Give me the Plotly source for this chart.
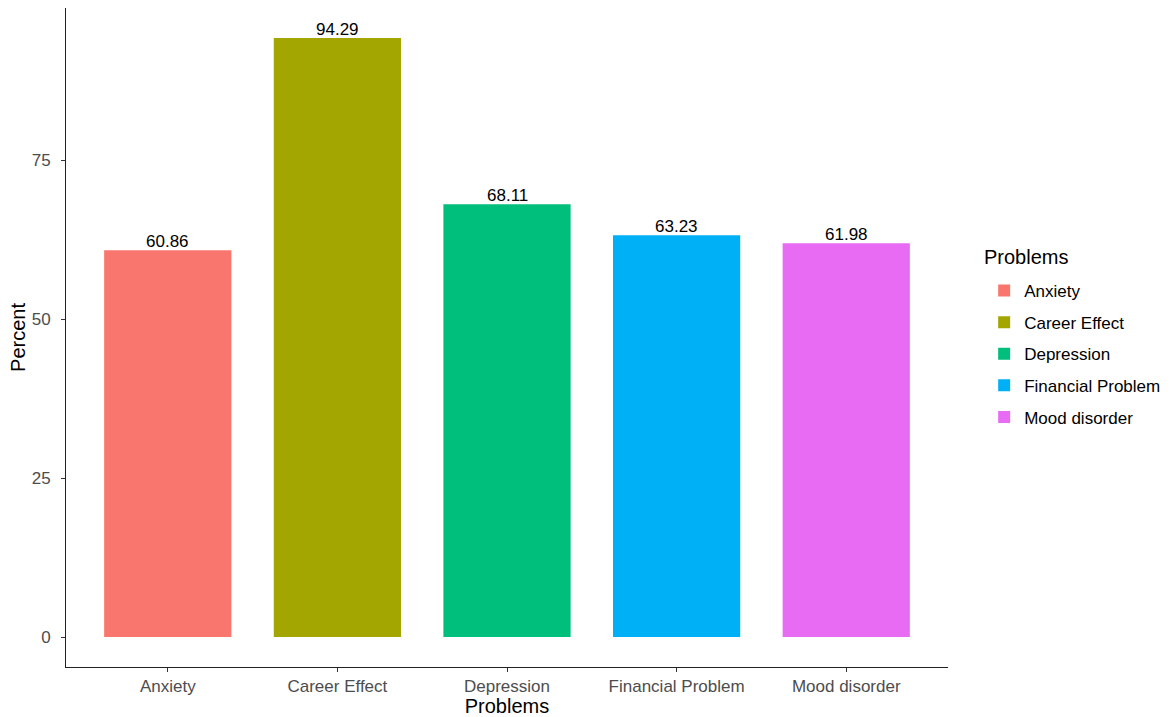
import plotly.graph_objects as go

categories = ["Anxiety", "Career Effect", "Depression", "Financial Problem", "Mood disorder"]
percents = [60.86, 94.29, 68.11, 63.23, 61.98]
colors = ["#F8766D", "#A3A500", "#00BF7D", "#00B0F6", "#E76BF3"]
y_ticks = [0, 25, 50, 75]

FONT = "Liberation Sans, Arial"

fig = go.Figure()
for cat, val, col in zip(categories, percents, colors):
    fig.add_trace(go.Bar(
        x=[cat], y=[val], name=cat, legendgroup=cat,
        marker=dict(color=col, line=dict(width=0)),
        width=0.75, showlegend=True,
    ))
    fig.add_annotation(
        x=cat, y=val, xref="x", yref="y", text=f"{val:.2f}",
        showarrow=False, yanchor="bottom", yshift=-3,
        font=dict(size=17, color="#000000", family=FONT),
    )

# legend title
fig.add_annotation(
    x=1.0385, y=0.622, xref="paper", yref="paper", text="Problems",
    showarrow=False, xanchor="left", yanchor="middle",
    font=dict(size=20, color="#000000", family=FONT),
)

fig.update_layout(
    width=1176, height=717,
    barmode="overlay",
    plot_bgcolor="white", paper_bgcolor="white",
    margin=dict(l=66, r=228, t=8, b=50, autoexpand=False),
    font=dict(family=FONT, color="#000000"),
    legend=dict(
        font=dict(size=17, color="#000000"),
        x=1.041, xanchor="left", y=0.475, yanchor="middle",
        itemwidth=30, tracegroupgap=6.5, bgcolor="rgba(0,0,0,0)",
    ),
)
fig.update_xaxes(
    type="category", categoryorder="array", categoryarray=categories,
    range=[-0.6, 4.6], showline=True, linecolor="#222222", linewidth=1,
    ticks="outside", ticklen=4, tickcolor="#333333", showgrid=False, zeroline=False,
    tickfont=dict(size=17, color="#4D4D4D"), automargin=False,
    title=dict(text="Problems", font=dict(size=20, color="#000000"), standoff=5),
)
fig.update_yaxes(
    range=[-4.71, 99.0], tickvals=y_ticks, ticktext=[str(v) for v in y_ticks],
    showline=True, linecolor="#222222", linewidth=1,
    ticks="outside", ticklen=4, tickcolor="#333333", showgrid=False, zeroline=False,
    tickfont=dict(size=17, color="#4D4D4D"), automargin=False, ticklabelstandoff=7,
    title=dict(text="Percent", font=dict(size=20, color="#000000"), standoff=0),
)

fig.write_html("out.html", config={"displayModeBar": False},
               post_script="document.body.style.margin='0';")
